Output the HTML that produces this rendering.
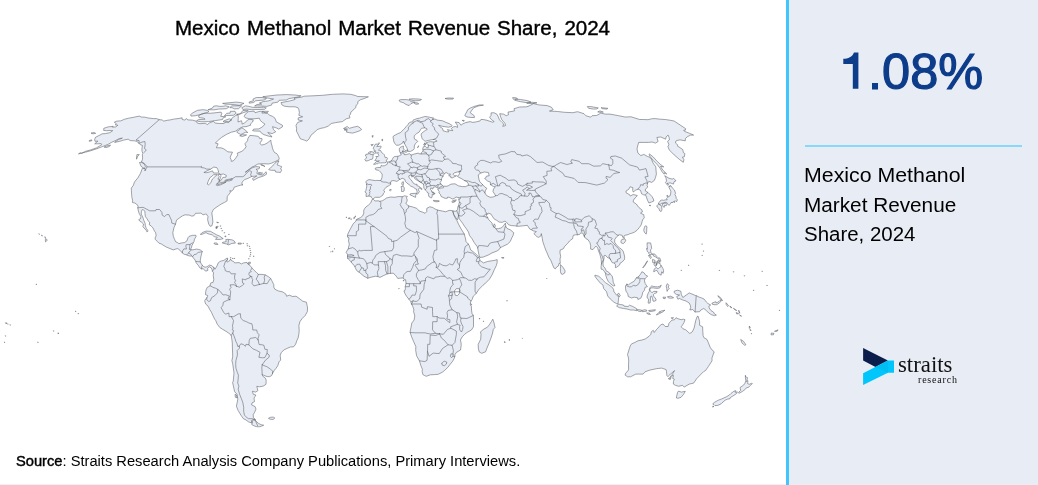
<!DOCTYPE html>
<html><head><meta charset="utf-8">
<style>
html,body{margin:0;padding:0;background:#fff;}
body{width:1038px;height:485px;position:relative;overflow:hidden;font-family:"Liberation Sans",sans-serif;color:#000;}
#title{will-change:transform;position:absolute;left:175px;top:16px;font-size:20px;line-height:24px;white-space:nowrap;color:#000;-webkit-text-stroke:0.4px #000;word-spacing:1.2px;transform-origin:0 0;transform:scaleX(1.026);}
#map{position:absolute;left:0;top:0;width:786px;height:485px;}
#src{will-change:transform;position:absolute;left:15.5px;top:453.5px;font-size:13.8px;line-height:16px;white-space:nowrap;color:#000;transform-origin:0 0;transform:scaleX(1.064);}
#src b{font-weight:normal;-webkit-text-stroke:0.4px #000;}
#panel{position:absolute;left:786px;top:0;width:252px;height:485px;background:#e8ecf5;border-left:3px solid #41c5fc;box-sizing:border-box;}
#big{will-change:transform;position:absolute;left:840px;top:43px;font-size:50.5px;line-height:58px;color:#0c3c8a;white-space:nowrap;-webkit-text-stroke:1.2px #0c3c8a;}
#rule{position:absolute;left:805px;top:145px;width:217px;height:2px;background:#88d8f9;}
#desc{will-change:transform;position:absolute;left:804px;top:160.5px;font-size:19.4px;line-height:29.7px;color:#000;white-space:nowrap;}
#desc span{display:block;transform-origin:0 0;}
#logo{position:absolute;left:850px;top:335px;width:130px;height:65px;}
#st{will-change:transform;position:absolute;left:897.5px;top:352.5px;font-family:"Liberation Serif",serif;font-size:22.8px;line-height:24px;color:#111;white-space:nowrap;}
#rs{will-change:transform;position:absolute;left:918px;top:373.6px;font-family:"Liberation Serif",serif;font-size:10px;line-height:12px;letter-spacing:0.8px;color:#111;white-space:nowrap;}
#bot{position:absolute;left:0;top:484px;width:786px;height:1px;background:#f0f1f4;}
</style></head><body>
<div id="title">Mexico Methanol Market Revenue Share, 2024</div>
<svg id="map" viewBox="0 0 786 485">
<path d="M159.2 119.7L162.1 119.9L163.8 121.1L167.2 120.3L170.1 119.9L174.3 119.0L178.0 118.6L182.1 117.8L182.0 119.2L184.3 120.1L186.7 118.6L187.7 119.9L192.3 120.1L196.0 121.1L197.3 123.1L200.0 123.7L205.3 123.3L207.3 124.6L209.9 122.6L213.5 121.4L215.2 123.1L219.7 123.5L223.8 123.5L225.9 122.0L228.6 122.6L230.7 120.5L231.9 118.2L235.3 115.7L237.8 114.7L238.3 116.8L238.2 118.8L238.1 119.9L238.0 122.0L241.4 120.7L241.9 122.2L242.1 124.1L244.5 123.1L247.7 119.9L249.8 119.2L253.3 119.9L252.6 122.0L250.3 124.1L250.7 125.2L246.0 126.7L243.5 126.7L241.4 127.4L238.7 128.9L235.3 131.3L231.3 132.2L226.3 134.5L221.6 137.4L217.5 140.8L215.4 143.1L218.1 143.8L216.4 147.8L221.0 147.8L223.9 148.9L227.8 151.8L232.5 152.2L230.7 156.0L230.2 157.7L231.1 159.6L231.3 161.3L233.4 160.8L235.5 158.4L237.8 154.9L237.2 153.2L241.9 151.3L244.7 148.9L246.1 146.6L244.9 143.8L247.5 140.8L247.9 138.5L249.8 135.4L254.7 135.8L257.9 136.3L259.2 137.2L259.4 138.3L261.9 138.5L262.0 140.1L259.9 143.1L260.1 143.8L261.7 145.0L264.3 144.5L267.1 143.1L269.4 141.3L270.8 140.1L271.2 143.1L271.9 145.4L272.5 148.2L273.4 150.6L274.5 152.5L276.8 153.7L277.7 154.9L278.6 156.5L279.2 158.4L279.0 159.6L276.1 161.1L271.5 163.2L268.4 164.0L263.7 163.7L257.9 164.0L254.2 166.2L251.9 167.1L247.7 170.5L245.2 172.3L249.1 169.6L252.7 167.6L255.9 166.6L259.7 166.9L259.1 168.8L256.0 169.3L257.5 170.5L256.9 173.5L258.3 174.2L260.1 174.7L263.0 175.0L264.6 173.0L266.1 171.8L266.6 174.2L263.7 175.9L258.2 177.7L253.4 180.4L252.5 178.6L256.8 175.9L254.7 176.2L251.7 176.4L248.0 178.4L244.6 179.6L242.6 181.6L242.0 182.8L242.0 184.6L243.0 184.8L240.2 185.3L237.5 186.1L234.1 187.3L233.4 189.6L230.9 191.5L230.1 190.3L230.2 192.8L227.6 196.0L227.2 196.8L227.1 200.8L224.7 202.3L221.3 204.0L218.6 205.8L216.0 207.5L213.4 209.5L211.8 212.8L212.5 217.8L212.9 222.1L211.9 225.8L210.1 226.3L208.7 224.1L207.6 219.6L208.0 216.6L206.4 214.1L205.4 214.1L203.1 214.8L200.9 213.1L197.7 213.3L195.6 213.3L193.9 215.8L191.7 216.1L189.2 215.1L185.0 214.8L182.6 215.8L179.6 217.8L176.5 220.1L175.5 224.1L173.9 227.8L172.8 232.8L173.4 236.6L174.7 239.6L175.5 241.6L177.5 242.6L178.9 243.6L181.8 242.9L184.5 242.6L186.9 240.9L188.2 237.3L189.2 236.3L192.6 235.3L195.9 235.3L196.1 236.6L194.5 239.1L194.0 241.6L193.1 243.4L192.0 245.4L191.4 247.9L190.2 249.4L191.9 249.9L194.1 249.6L196.3 249.1L198.5 249.4L200.6 249.9L202.2 251.6L201.5 254.1L200.8 257.1L200.4 259.6L200.2 261.9L201.2 263.6L202.4 265.4L203.7 266.7L205.9 267.2L208.1 266.1L209.3 265.1L211.5 265.6L213.8 267.4L215.0 269.2L217.0 265.9L218.2 262.9L219.8 261.6L221.6 260.9L223.9 260.4L226.2 258.6L227.8 258.1L227.2 260.1L226.4 261.6L226.9 262.1L228.2 261.6L230.0 260.4L230.6 258.9L231.1 260.4L233.7 261.6L234.7 262.9L239.1 262.6L241.3 263.9L243.5 262.9L246.9 262.4L247.9 264.1L250.0 265.4L252.1 268.2L254.2 270.4L256.4 272.4L258.5 274.4L261.9 274.4L265.2 274.9L268.4 276.7L270.6 278.4L271.7 280.4L273.8 284.7L273.8 287.2L274.9 289.2L277.1 290.4L278.2 290.9L282.7 291.9L286.0 294.2L286.5 296.2L289.3 295.2L292.7 296.5L296.0 296.2L299.3 298.5L302.7 301.2L306.4 302.2L307.1 305.5L307.6 308.0L307.3 311.7L305.2 315.5L302.0 318.7L299.9 321.7L298.9 325.5L299.2 330.5L298.9 333.8L298.1 338.0L296.9 340.5L295.6 344.3L293.6 346.8L290.4 347.0L287.3 348.3L284.1 349.8L281.2 352.6L280.2 355.6L280.7 360.1L279.0 361.8L277.8 365.6L275.7 368.8L274.4 370.1L272.5 373.6L271.6 375.6L269.7 376.6L267.2 376.6L263.6 375.3L262.1 374.3L262.7 376.1L265.4 378.1L266.2 380.1L266.0 384.3L263.3 386.1L259.4 386.8L256.8 386.3L257.9 390.6L255.7 392.1L252.4 391.3L253.3 394.3L255.9 395.0L255.0 396.5L254.0 398.0L254.5 401.7L252.0 402.9L251.6 404.9L255.1 406.6L256.0 409.1L254.4 412.7L253.2 414.7L253.4 417.5L255.3 419.5L253.2 419.5L251.3 420.7L252.0 423.1L248.6 421.9L245.9 419.9L243.4 418.7L240.9 415.1L238.0 410.3L236.4 406.1L237.1 402.9L237.8 399.2L237.1 394.3L234.7 391.8L233.8 388.1L232.6 382.3L233.3 381.1L233.5 378.1L234.0 373.1L233.3 368.1L232.8 364.3L231.9 360.6L232.7 356.8L232.6 353.1L232.4 348.0L232.3 343.0L231.9 339.8L231.2 335.3L228.9 333.3L226.0 331.3L222.6 329.3L219.8 327.5L217.3 324.3L215.7 320.5L214.7 319.2L213.2 316.2L211.4 312.2L209.5 309.2L208.1 306.2L205.8 304.2L205.0 302.2L204.8 300.5L205.8 298.7L206.9 297.7L207.5 296.7L207.7 295.5L205.5 294.7L205.7 291.7L206.3 289.2L207.4 287.2L209.7 286.2L210.1 285.4L210.8 282.9L213.1 282.4L213.8 279.7L213.2 275.4L213.6 272.9L212.5 271.2L211.9 269.2L211.3 267.9L209.2 266.7L207.6 268.4L207.9 270.4L205.7 271.2L204.6 269.9L203.1 268.7L201.6 268.9L199.9 267.9L198.3 265.4L197.2 264.1L195.6 261.9L195.9 261.4L194.3 259.1L192.5 256.9L191.7 255.9L190.1 256.1L187.4 255.4L186.8 254.8L184.2 254.3L182.3 252.9L179.8 250.1L177.8 248.6L176.2 248.9L173.3 249.9L170.1 248.6L166.4 247.1L163.0 245.1L161.6 244.1L158.9 243.1L157.2 241.4L155.3 239.4L155.1 237.9L156.1 235.8L155.7 232.8L154.5 231.1L152.8 227.8L151.0 225.8L149.3 224.8L149.7 222.3L147.9 220.6L147.3 219.1L145.4 216.6L145.0 213.6L144.9 211.1L143.6 210.1L142.3 209.5L141.4 211.6L141.2 214.1L142.6 216.6L143.4 219.1L144.0 220.8L145.1 223.3L145.3 225.3L146.2 228.3L147.8 230.3L147.8 231.3L146.8 231.8L146.2 230.3L144.1 228.1L142.9 226.6L143.5 224.1L141.7 222.3L139.7 221.1L138.8 219.6L140.6 218.6L140.9 216.6L139.0 213.1L138.4 211.1L137.8 207.8L138.1 206.0L136.5 204.0L134.6 203.0L132.5 202.5L132.6 200.3L131.9 197.5L131.7 195.3L131.5 193.3L131.4 190.3L131.3 188.1L133.4 185.3L134.4 182.1L137.8 177.9L140.3 173.7L142.4 168.3L145.4 168.8L144.9 171.0L147.0 166.9L146.7 166.2L145.4 164.5L142.9 162.5L141.4 162.0L142.4 159.6L142.6 157.2L142.3 154.9L142.9 153.2L142.1 151.8L141.9 148.9L142.4 145.4L140.3 144.7L139.0 143.4L136.9 141.5L134.4 140.8L130.2 140.6L128.2 139.2L123.7 140.1L119.8 141.3L114.6 142.4L118.4 139.7L122.4 138.1L119.3 138.5L115.0 140.8L111.4 142.4L108.2 144.3L102.4 146.6L96.3 148.9L90.6 150.8L85.4 152.2L82.1 153.0L85.5 151.3L90.7 149.9L96.6 147.8L101.7 144.7L101.2 143.6L97.4 143.8L94.7 143.8L97.9 141.1L95.0 141.3L94.6 139.5L95.6 137.2L99.9 135.1L102.1 133.8L105.3 133.6L109.9 132.7L112.7 130.7L111.0 130.5L106.5 130.7L103.7 130.5L103.8 128.3L108.1 126.9L113.2 126.3L112.3 127.2L115.9 126.9L117.9 125.2L115.4 125.0L116.2 123.5L114.3 122.2L116.8 121.1L120.6 120.9L124.7 119.2L128.6 118.2L134.1 117.2L139.2 116.1L141.4 117.0L145.1 117.2L147.4 117.8L150.0 118.2L153.4 118.6L156.6 118.6ZM281.0 102.6L289.5 101.0L295.1 99.5L294.2 98.1L301.0 97.3L304.0 96.2L313.0 95.8L322.6 95.3L332.4 94.3L343.0 93.9L350.6 94.3L355.4 95.5L357.7 96.5L368.4 96.8L364.0 98.6L360.3 99.8L357.8 101.6L357.9 103.7L356.2 105.2L355.6 107.7L353.7 109.7L350.9 112.1L350.4 114.3L349.3 115.7L350.0 117.8L346.3 118.8L342.4 121.6L335.7 122.6L331.4 123.5L328.2 126.1L324.5 127.6L320.9 128.3L317.2 129.6L314.6 132.2L311.1 135.1L309.0 139.0L306.8 141.1L304.3 140.1L300.3 138.8L298.8 135.8L297.4 132.9L296.4 131.1L296.6 128.5L296.0 125.4L297.7 122.4L302.4 120.9L298.1 119.9L298.3 117.8L302.7 116.8L298.8 115.3L299.4 112.7L298.9 109.7L297.9 107.7L294.9 106.8L289.0 106.8L284.4 106.2L281.9 104.9ZM272.0 137.0L269.9 136.5L266.9 135.6L264.0 134.7L261.4 133.1L260.0 131.1L255.7 131.1L252.6 130.7L253.6 129.1L258.8 128.9L262.4 126.9L265.0 124.1L262.7 122.6L260.2 120.3L259.3 118.2L254.1 118.8L249.3 118.8L245.3 117.8L244.2 116.3L245.7 113.7L248.3 111.7L254.1 111.1L255.0 112.7L260.0 111.3L262.3 111.3L265.0 112.7L267.6 113.3L269.3 115.1L272.4 116.3L274.6 117.8L275.7 119.9L276.2 121.8L279.2 123.5L282.4 125.2L282.4 126.9L278.8 129.1L276.1 127.8L272.5 126.7L273.5 129.6L275.7 131.8L272.3 133.6L267.7 132.5L270.6 135.1ZM190.5 114.7L191.1 116.1L195.5 115.7L199.8 114.7L206.8 112.7L209.0 111.5L207.4 110.3L202.9 109.7L197.6 110.3L193.0 112.7ZM198.6 115.7L199.0 117.6L203.8 118.2L205.1 119.2L198.3 119.7L196.5 120.9L201.0 121.8L208.5 121.6L215.9 120.5L222.5 119.5L223.2 117.8L225.8 116.8L220.7 116.3L221.8 113.7L221.2 112.1L216.0 112.7L209.9 113.3L204.8 113.1L201.3 114.1ZM223.6 120.9L223.5 122.0L228.7 121.6L231.7 119.9L229.4 118.8ZM224.4 115.7L233.4 115.3L236.1 113.3L235.0 111.3L230.4 111.3L230.1 113.1L226.8 113.3ZM236.6 114.3L240.3 113.7L242.9 110.5L248.1 110.3L247.8 111.1L243.2 112.7L238.6 114.7ZM213.6 106.2L212.4 108.1L208.1 109.7L213.9 109.9L218.6 109.1L226.5 108.7L229.2 106.8L225.7 105.8L223.8 106.2L219.9 106.4L216.3 105.8ZM231.6 105.8L241.7 105.8L238.5 108.7L234.5 108.9L232.1 107.7L229.9 107.7ZM239.3 105.4L244.0 103.4L240.2 102.5L236.4 102.1L228.4 102.8L222.6 103.4L225.1 104.1L233.3 104.5ZM241.8 107.7L242.9 109.5L247.0 109.1L251.7 109.7L260.1 109.5L264.7 109.3L266.3 107.9L263.7 107.2L257.5 107.5L252.5 107.3L249.1 106.4L245.4 105.8ZM249.2 103.2L253.6 102.5L255.6 100.8L264.2 100.0L266.5 98.6L262.5 97.5L256.4 97.5L252.9 99.1L253.5 100.8L249.3 101.9ZM254.6 106.0L260.5 106.0L266.7 106.4L271.6 105.1L272.0 103.2L278.0 102.1L279.1 100.3L286.3 100.0L289.0 98.6L298.0 97.0L301.1 95.8L295.2 95.0L286.5 94.6L276.8 95.0L269.1 95.9L262.8 96.7L267.8 98.1L273.6 99.0L268.8 100.8L263.1 101.6L259.4 103.0L261.7 104.1L257.0 104.5ZM241.9 127.8L236.7 131.8L237.6 132.9L240.9 134.5L245.7 132.2L247.8 132.5L245.9 130.7L243.7 128.9ZM246.6 134.9L242.4 134.7L239.7 135.8L242.5 136.5ZM262.6 111.3L268.4 111.3L267.1 112.9L261.9 113.1ZM268.7 169.6L271.2 170.3L275.1 170.3L275.6 172.0L278.5 172.3L280.4 172.5L281.6 170.3L280.6 168.1L281.9 166.9L279.4 165.7L277.1 164.9L279.0 160.8L276.1 162.0L274.0 164.5L271.2 167.1ZM139.5 162.5L141.1 166.4L144.5 168.6L145.4 166.4L144.0 163.7L141.2 162.3ZM136.9 154.6L136.6 157.2L136.5 159.2L137.7 156.3L139.3 154.6ZM263.2 165.2L265.0 166.6L260.7 164.7ZM258.9 172.3L262.6 173.0L261.2 174.2L258.0 173.2ZM80.3 152.7L82.2 153.2L78.5 153.9ZM91.0 133.1L94.3 132.5L95.7 133.4L93.0 133.8ZM89.4 140.4L91.9 139.9L91.7 140.8L89.2 141.3ZM104.1 147.1L106.5 147.5L109.5 146.4L110.5 145.0L106.5 146.1ZM200.3 234.3L202.8 232.3L206.2 231.1L210.5 231.3L213.5 233.1L216.5 234.8L219.6 236.1L223.2 238.6L220.3 239.4L215.5 239.4L217.3 237.3L214.1 236.6L212.2 234.8L208.0 233.8L206.0 232.6L203.7 233.6L201.4 234.6ZM222.3 243.1L226.4 243.9L228.5 244.9L231.9 243.4L235.4 243.1L234.3 241.1L232.2 239.9L228.6 239.4L225.8 239.4L226.2 241.6L222.6 242.4ZM213.8 243.4L215.4 244.4L218.0 244.4L216.9 243.1L214.9 242.9ZM238.0 243.1L238.1 244.1L241.2 244.1L241.3 243.1ZM248.4 262.4L248.1 263.9L250.1 263.9L250.4 262.1ZM216.6 222.1L218.6 222.6L217.3 222.8ZM216.3 226.3L216.7 228.6L217.2 227.6ZM45.6 238.4L47.4 240.1L45.5 241.9L45.3 239.9ZM44.7 236.8L45.6 237.3L44.9 237.6ZM41.6 235.1L42.5 235.8L41.6 235.8ZM38.7 233.8L39.5 234.1L39.0 234.3ZM268.4 418.3L270.4 417.3L273.3 417.1L274.8 418.0L273.0 419.5L270.1 419.2ZM255.3 420.4L256.7 421.9L258.7 423.5L261.1 424.7L263.7 425.2L261.7 426.1L259.2 426.8L256.3 426.6L254.2 425.9L251.7 424.5L252.3 423.1L252.3 420.9L253.7 420.2ZM235.1 394.3L236.3 394.8L237.1 397.8L235.3 397.3ZM343.5 128.5L347.2 126.5L349.3 128.3L354.5 126.9L357.6 126.3L360.1 127.8L361.6 129.6L359.0 131.1L352.8 133.1L349.5 132.7L346.2 132.0L347.2 130.7L344.0 129.8L347.5 129.1ZM452.7 210.8L449.9 210.3L447.9 210.8L445.8 211.8L442.6 211.1L437.6 210.1L435.0 209.0L432.8 207.5L429.8 206.8L426.8 208.3L426.7 211.6L425.1 213.3L422.5 212.1L419.3 211.1L416.7 208.3L412.2 206.8L408.6 206.0L407.5 204.8L405.8 203.5L406.9 201.5L407.3 200.0L406.4 197.8L407.4 196.5L405.5 196.0L404.6 195.8L402.2 196.8L399.9 196.5L396.8 196.8L394.8 197.3L390.6 197.0L386.5 198.0L384.4 199.5L382.3 200.8L379.8 201.3L378.2 200.8L375.0 201.0L373.4 199.3L372.1 199.5L370.8 202.8L368.5 205.0L365.9 207.0L364.8 208.3L363.7 210.3L363.8 213.1L362.7 215.8L360.5 217.6L356.8 219.3L355.5 221.6L353.3 223.6L351.0 227.8L349.9 229.8L347.8 234.1L347.4 237.1L349.0 237.9L348.5 240.9L349.3 244.1L348.3 248.6L346.1 252.4L347.6 254.6L347.5 258.1L348.8 259.6L350.8 261.4L352.0 263.4L354.2 265.4L355.3 267.9L356.8 270.7L359.0 272.2L360.6 273.4L363.9 276.2L367.6 278.2L371.2 277.2L375.6 276.2L378.2 276.7L380.0 277.4L383.3 275.7L387.1 273.9L389.9 273.4L393.2 273.2L395.0 274.7L396.6 276.7L397.7 278.4L399.9 278.2L402.8 277.9L404.1 279.2L405.6 279.7L406.1 283.4L405.2 286.7L405.4 288.4L405.0 290.4L403.9 290.9L405.0 293.7L406.5 296.2L408.7 299.0L410.5 301.2L411.4 303.7L412.7 306.2L414.0 310.0L413.5 311.2L414.8 316.0L414.1 320.0L411.8 323.0L411.1 327.0L410.2 331.0L410.2 332.5L411.6 336.8L413.5 341.3L415.8 346.5L415.7 350.5L416.6 355.8L419.4 360.8L420.9 365.6L422.4 369.3L422.1 371.3L422.9 374.6L424.7 375.6L426.2 376.3L430.4 374.8L434.6 374.6L438.2 374.3L442.2 372.3L444.4 370.6L447.9 367.3L450.3 364.1L452.6 361.3L454.4 358.1L455.1 354.3L456.5 352.3L460.5 350.0L461.2 345.5L461.1 343.0L460.4 340.0L462.3 336.8L464.6 334.3L467.4 332.3L471.4 330.0L473.5 326.8L473.5 323.0L473.5 318.0L473.3 315.5L472.1 313.7L471.5 310.0L471.4 306.5L470.3 304.7L470.6 301.7L472.1 299.5L473.3 296.2L476.2 293.4L479.1 289.2L482.8 285.4L484.8 283.9L489.4 279.2L492.2 274.7L494.3 269.7L496.3 265.6L497.1 262.9L497.2 259.6L494.4 260.4L491.1 260.9L487.8 261.4L483.5 262.9L480.1 260.6L479.3 257.9L477.7 255.9L474.7 252.9L472.0 250.9L470.8 250.1L469.1 245.4L468.3 244.1L466.0 241.6L465.4 237.9L464.9 236.6L464.3 234.1L461.2 229.1L458.5 224.1L457.0 220.8L455.2 217.8L453.7 214.6ZM492.8 319.2L494.1 323.0L495.0 327.5L493.3 329.3L492.6 333.0L491.0 338.0L489.1 343.0L487.0 348.0L485.6 351.8L481.6 353.3L479.1 351.8L478.3 348.0L478.2 344.3L480.7 339.3L481.0 334.3L480.5 331.8L483.9 329.0L487.3 327.3L489.7 324.3L491.3 321.7ZM452.7 210.8L455.3 211.3L456.7 210.8L457.5 209.5L457.8 207.0L458.2 206.3L458.8 204.3L459.4 202.3L458.8 199.5L459.4 197.5L458.0 197.5L456.0 197.0L454.1 198.5L452.5 199.0L449.7 197.5L447.7 197.0L447.3 198.3L445.0 198.3L442.8 197.3L441.1 196.5L440.5 194.5L438.9 193.0L439.3 191.5L438.0 190.3L437.8 189.1L440.4 188.1L443.4 187.8L443.6 186.1L446.2 186.3L448.2 185.8L451.0 184.1L455.0 183.8L458.3 185.8L462.5 186.6L465.5 186.6L468.4 185.3L468.2 183.6L466.7 181.6L463.8 180.1L461.1 178.4L458.9 177.4L457.3 176.2L458.5 175.4L459.6 173.7L458.9 172.3L461.1 171.3L457.9 171.8L454.2 173.0L453.3 173.7L453.0 174.2L454.7 175.9L456.6 175.7L454.6 176.7L452.4 177.9L450.8 177.7L450.7 176.2L448.7 175.7L450.6 174.2L448.4 174.0L446.8 172.7L444.9 173.0L443.3 175.4L441.6 178.6L441.4 180.6L440.1 182.6L440.9 184.3L443.1 185.8L441.2 186.6L439.3 187.6L437.7 188.3L437.2 187.3L435.1 186.8L433.2 187.3L432.9 189.1L430.8 187.8L430.5 189.6L431.9 191.0L431.6 192.0L433.8 193.5L433.9 194.8L432.2 194.3L432.3 195.8L431.7 197.8L430.8 197.8L429.3 197.0L428.3 194.8L429.0 193.5L427.6 193.0L426.8 191.5L425.2 189.8L423.9 188.1L423.7 185.6L423.4 184.3L421.6 182.8L418.5 181.1L417.2 180.4L414.7 178.6L414.0 176.7L412.9 175.9L412.0 177.2L411.3 175.4L410.3 175.0L408.8 175.9L409.1 177.9L411.4 180.1L413.0 182.8L415.1 184.3L417.1 184.3L416.8 185.6L418.9 186.3L422.1 188.8L421.8 189.6L419.4 187.8L418.3 189.8L419.4 191.5L418.5 193.0L417.4 194.3L416.7 193.5L417.2 192.0L416.4 189.1L415.0 188.6L413.9 187.6L413.2 187.1L410.7 186.1L409.0 184.6L407.0 183.1L405.5 181.6L404.8 179.4L403.9 178.9L402.1 178.2L400.4 179.4L399.4 179.6L398.2 180.6L396.8 181.4L395.0 180.9L393.0 180.6L391.4 180.9L390.4 182.8L390.9 184.3L388.9 185.6L386.0 187.3L384.4 189.3L383.8 190.5L384.8 192.0L383.4 193.3L383.0 195.0L380.5 196.8L379.9 197.3L375.3 197.3L373.2 198.8L372.8 199.0L371.4 197.5L371.2 196.5L369.1 196.0L366.0 196.5L366.3 193.0L364.9 192.0L366.0 190.3L366.3 188.6L366.8 186.1L366.5 183.8L365.8 181.6L367.8 180.1L369.0 179.6L372.4 180.1L375.4 180.6L376.8 180.4L380.8 180.6L382.0 177.4L382.2 175.2L382.0 173.7L380.1 171.8L378.6 170.3L375.8 169.8L375.1 168.3L377.4 167.4L380.5 167.6L381.3 165.2L382.1 165.9L384.6 165.7L387.3 164.2L387.5 162.3L389.2 161.8L391.1 161.1L392.2 159.6L393.2 157.5L394.7 156.5L397.5 156.3L399.7 155.8L400.4 155.1L401.2 154.9L400.3 152.7L399.5 151.3L399.2 148.9L400.0 147.5L402.3 146.4L403.5 146.1L403.2 148.5L404.3 149.2L403.1 150.4L402.3 151.8L402.2 152.7L403.0 153.7L404.8 153.9L404.7 154.9L406.7 154.4L409.5 153.7L411.1 155.1L414.1 154.1L418.5 153.0L419.1 153.9L421.2 153.9L421.4 152.7L423.2 150.8L422.7 148.9L423.3 146.8L425.2 146.1L426.5 147.5L428.2 147.8L428.4 145.7L428.3 144.5L426.4 143.6L426.2 142.7L428.4 142.0L430.5 141.7L434.1 142.0L437.1 141.1L434.8 139.5L431.9 139.7L428.5 140.4L425.1 141.3L423.5 139.9L421.9 138.5L421.8 137.2L421.1 135.1L421.4 133.6L423.0 132.2L425.7 130.2L427.1 129.6L426.7 128.5L424.7 127.8L421.5 128.3L420.4 129.8L419.9 130.9L419.0 132.2L416.6 133.6L415.2 134.9L414.3 135.8L414.2 137.9L414.6 139.2L417.0 140.4L417.9 141.3L416.6 142.4L415.3 143.8L414.3 145.9L414.3 148.5L413.3 149.9L410.7 151.3L408.3 151.5L407.7 150.1L407.2 148.5L405.9 146.1L404.4 143.4L403.3 141.1L402.8 142.9L400.5 144.3L398.8 145.2L396.6 145.2L394.6 143.4L393.6 140.8L393.6 139.9L393.1 137.9L393.2 136.3L395.1 135.1L397.6 133.8L400.6 132.5L402.0 131.1L403.4 129.6L404.8 128.3L406.0 126.7L408.0 124.6L408.8 123.1L411.1 121.8L412.6 122.2L413.2 119.9L414.7 119.5L417.0 118.6L419.3 118.2L421.8 117.4L424.9 116.5L427.6 116.8L429.3 117.2L433.5 118.0L432.2 119.2L433.6 119.2L435.0 119.0L437.2 120.1L442.2 120.7L446.0 122.4L449.8 123.9L452.2 125.6L451.5 126.5L448.4 127.2L442.3 126.3L438.7 125.2L439.9 126.7L442.6 128.5L443.0 130.7L446.4 131.8L448.9 131.8L447.4 129.6L451.1 130.5L452.8 130.7L451.3 128.5L453.3 126.9L455.6 126.5L457.6 127.4L457.3 125.2L455.3 122.0L459.1 122.6L460.9 125.2L462.8 123.9L465.6 122.6L470.0 121.6L472.8 122.4L476.5 121.8L480.1 120.9L480.9 119.5L483.3 119.5L487.0 120.3L492.6 122.2L494.2 121.6L491.3 119.5L489.6 117.2L491.1 115.3L491.0 112.9L493.9 112.7L496.8 114.1L498.3 116.8L499.5 119.9L502.0 122.4L503.8 124.1L502.7 126.3L505.6 125.6L504.8 123.1L501.9 119.9L500.6 116.8L499.7 113.7L503.4 114.1L506.2 115.7L508.5 114.7L508.0 112.1L514.5 110.9L514.0 108.7L519.6 107.0L526.7 106.8L529.8 105.6L533.4 103.6L538.9 104.9L547.2 105.6L551.4 107.2L553.2 109.7L549.5 111.1L554.3 111.3L557.6 111.5L564.6 112.3L572.8 112.7L577.6 111.7L584.0 113.7L585.8 115.7L590.7 117.2L592.0 115.7L596.5 115.5L599.2 114.1L600.4 113.1L605.4 114.1L610.0 114.1L618.6 115.7L625.0 117.0L631.0 116.8L639.7 119.5L643.7 119.5L648.0 119.7L651.5 118.8L655.1 118.6L660.1 119.2L665.2 119.5L670.5 120.3L674.1 121.0L685.7 128.7L685.4 130.2L683.7 130.2L684.4 131.3L689.7 133.4L693.6 135.1L690.5 135.1L687.4 136.7L685.4 138.5L685.3 140.8L680.1 139.9L677.1 140.4L675.8 141.1L675.6 143.1L678.1 145.4L677.4 145.9L682.8 149.6L683.3 152.5L684.9 153.7L684.3 156.8L682.4 157.2L683.9 159.6L683.3 162.3L679.6 159.6L674.2 154.9L669.4 150.1L667.9 146.6L668.9 144.7L667.6 141.3L669.4 139.9L669.1 137.4L668.1 135.1L666.0 137.0L665.7 139.2L660.8 137.0L656.9 137.4L658.1 141.5L655.5 143.1L652.1 142.0L648.5 142.4L643.2 142.4L638.7 142.4L637.7 145.9L637.0 148.9L637.9 153.0L640.8 155.6L643.8 154.4L647.6 156.5L649.7 157.2L651.4 159.2L653.2 163.2L655.8 166.9L656.1 171.0L656.4 174.2L655.5 177.4L654.4 180.4L651.7 182.4L648.8 181.4L647.6 183.3L647.1 185.6L647.8 187.1L645.4 189.1L645.4 191.0L648.0 192.5L652.0 196.5L653.4 199.0L653.8 201.0L651.6 202.0L648.9 203.0L647.5 200.3L646.4 197.0L645.8 195.3L643.5 194.8L641.6 193.8L640.5 190.3L638.0 189.1L635.7 190.1L633.2 192.0L632.7 190.3L632.8 187.6L630.0 186.8L628.8 189.3L626.0 191.0L626.1 192.8L629.4 194.5L630.3 196.0L633.1 194.5L637.3 195.5L636.0 197.3L634.2 198.8L633.3 200.8L633.2 202.0L636.3 204.0L638.9 207.5L641.8 209.8L642.5 211.8L640.9 212.6L640.7 213.3L643.7 214.6L644.3 217.8L643.0 219.3L642.0 221.8L641.5 224.1L640.4 226.1L639.1 227.8L637.0 230.3L634.2 232.3L631.6 233.3L630.1 233.6L628.1 234.6L625.0 235.3L623.8 236.1L624.4 238.4L622.7 237.3L622.2 235.3L619.5 234.8L618.5 235.3L616.6 236.8L614.8 239.4L614.6 242.1L616.8 245.4L619.6 247.9L621.2 248.9L623.1 251.1L624.2 254.6L624.7 257.4L624.5 259.4L622.3 261.9L620.2 263.1L619.5 265.1L616.7 267.2L615.4 267.7L615.4 264.6L614.4 263.1L612.2 262.6L610.9 260.4L609.9 258.6L607.3 257.4L605.8 255.6L604.9 255.4L603.9 255.9L604.1 257.9L603.8 259.6L603.0 262.9L603.2 266.1L604.9 267.9L606.4 271.2L608.4 271.9L609.8 273.7L612.1 275.9L612.9 279.2L613.2 282.2L614.9 285.7L613.3 285.9L610.4 283.7L608.4 281.7L606.9 278.7L605.9 275.7L605.4 273.2L604.2 271.2L602.5 269.2L601.2 269.2L601.0 266.7L601.5 264.1L601.2 259.6L600.8 257.9L599.8 254.1L598.5 250.9L597.7 247.9L595.9 246.1L594.6 247.6L592.9 249.6L590.6 249.1L590.6 245.4L589.8 242.4L587.9 239.6L586.2 238.9L584.7 237.1L583.6 235.3L583.1 233.3L580.8 232.8L579.8 234.3L577.4 234.8L575.5 234.8L573.4 235.3L572.8 237.3L572.7 238.6L570.9 239.9L569.4 241.1L567.7 243.4L566.1 244.9L564.2 246.9L563.7 248.4L562.0 249.4L560.1 250.1L560.0 252.9L560.7 256.4L560.0 259.1L560.3 263.4L559.0 263.4L558.5 265.9L556.8 266.9L555.3 268.9L553.9 267.9L552.4 264.4L551.1 260.9L548.7 256.9L546.7 252.1L545.9 250.4L544.5 246.6L542.9 241.9L542.3 238.6L541.9 236.3L541.3 233.6L540.8 236.1L538.5 237.3L537.1 236.8L533.8 233.6L536.4 231.6L533.0 230.8L531.6 229.8L529.8 229.1L528.5 227.1L527.4 225.3L523.2 225.8L518.5 226.3L516.9 226.1L514.8 225.8L511.3 225.6L508.6 224.8L506.6 222.3L505.0 221.1L502.3 222.3L499.1 222.1L496.7 220.3L494.5 219.3L492.7 216.8L491.0 214.1L488.3 213.1L487.6 214.1L486.4 214.1L486.5 215.6L487.7 217.8L488.8 219.8L490.9 221.8L492.1 223.1L492.3 224.8L493.8 227.1L493.6 225.3L494.3 223.8L495.4 225.8L494.9 227.6L496.1 228.8L498.7 228.6L501.6 227.8L503.4 225.8L504.9 223.8L505.4 223.1L505.8 226.6L506.9 228.3L510.7 230.1L513.8 232.8L513.0 235.6L511.8 237.9L510.2 241.6L507.6 244.1L504.9 245.4L502.5 246.6L500.4 247.6L498.6 250.1L496.1 251.4L492.0 252.9L488.6 254.9L483.2 257.1L480.0 257.4L479.2 255.9L478.4 252.1L477.7 248.1L477.2 246.6L474.1 242.4L471.9 238.6L469.4 235.3L468.5 232.1L466.4 228.8L464.5 226.3L462.8 223.6L460.4 220.3L459.2 218.8L458.6 215.3L457.9 218.6L457.5 219.8L455.9 217.8L454.2 215.3L453.7 214.2ZM373.5 164.2L374.8 163.2L376.4 161.6L378.7 161.6L379.3 160.6L377.8 161.1L376.2 160.6L374.7 160.4L375.9 159.2L376.7 157.7L375.8 156.5L378.2 156.5L378.8 155.3L377.9 153.7L378.5 152.7L375.3 153.2L375.2 151.8L375.6 150.8L374.1 151.5L374.2 149.4L373.1 148.5L374.1 146.6L374.9 145.0L375.5 144.1L378.9 144.1L377.2 145.9L376.8 146.6L380.8 146.1L381.2 146.8L380.4 148.2L379.3 149.4L378.5 150.1L380.7 150.6L381.6 152.5L383.3 153.7L384.2 154.6L384.6 155.8L385.0 157.0L385.2 157.7L386.9 157.5L387.6 158.4L386.9 159.9L385.9 160.8L387.1 161.3L386.3 162.3L384.8 162.8L382.5 162.8L380.6 163.0L378.7 162.8L377.5 164.0L376.4 163.7L374.4 164.5ZM372.3 159.2L370.2 159.6L368.3 160.6L365.8 161.1L364.9 159.6L366.1 158.2L366.6 156.8L365.5 156.0L365.8 154.4L368.4 154.1L368.3 153.0L369.1 152.0L371.0 151.5L373.0 152.0L374.0 153.2L374.2 154.1L373.0 155.1L373.0 156.5L372.9 158.0ZM399.0 100.3L400.9 99.6L406.4 99.6L409.3 100.1L411.1 101.6L414.7 102.1L410.9 103.7L409.1 105.6L406.0 104.5L403.6 102.8L399.8 101.6ZM409.1 99.1L413.1 98.8L418.6 99.0L421.5 99.5L419.8 100.5L415.1 100.8L410.7 100.0ZM414.2 102.6L417.8 103.0L418.8 103.9L416.0 104.3L414.3 103.4ZM464.8 115.7L467.0 117.0L470.3 117.4L474.4 117.6L474.2 115.7L470.2 112.7L471.8 110.3L473.8 107.7L479.0 105.8L483.5 105.1L479.7 104.9L474.9 106.2L470.9 107.7L467.7 109.7L466.7 111.9L465.5 114.1ZM445.0 98.5L448.0 98.0L453.6 98.1L452.9 99.1L447.4 99.1ZM514.7 100.3L515.9 99.1L520.5 99.5L527.7 100.7L531.0 102.1L526.0 102.6L520.7 101.7ZM526.7 103.2L530.1 102.5L532.6 102.3L536.9 102.8L532.9 103.6L528.4 103.4ZM513.4 99.3L512.6 97.6L516.2 97.8L517.7 99.0ZM588.6 108.3L587.3 106.6L590.9 106.6L598.3 107.9L596.9 108.9L593.5 109.1ZM601.0 107.7L607.9 108.3L607.0 109.1L602.6 108.7ZM597.7 111.9L600.0 110.9L603.3 112.1L599.8 112.3ZM462.1 120.3L464.3 120.5L463.9 121.4ZM649.7 154.1L653.5 157.2L656.6 160.8L660.5 164.5L663.8 166.9L660.5 166.4L662.8 170.1L666.8 174.0L664.6 172.7L664.2 174.2L662.1 171.8L660.0 168.1L657.2 164.5L653.1 160.4L650.0 156.5L649.0 154.4ZM667.6 185.3L665.5 182.6L666.5 181.1L666.0 177.9L664.7 175.7L668.9 178.2L672.2 179.1L673.7 178.4L676.0 180.9L674.1 181.6L673.5 184.1L670.1 182.8L668.4 183.3L667.0 183.3L668.6 184.6ZM669.8 185.6L670.8 185.6L672.2 187.8L674.5 190.1L675.5 193.3L674.9 194.5L676.1 196.8L676.2 198.5L677.4 199.8L676.9 201.3L676.0 201.5L675.4 200.8L674.5 201.0L674.6 202.5L673.3 201.5L673.1 202.5L671.0 202.5L670.7 203.3L669.9 204.3L669.3 205.3L667.3 204.0L666.8 202.5L665.2 202.3L663.5 203.0L661.3 203.3L660.5 204.3L658.7 204.0L658.3 203.0L659.4 202.3L660.5 200.5L661.7 200.0L663.7 200.3L665.8 199.8L667.2 199.8L666.6 198.5L667.5 197.3L666.8 195.5L667.7 195.3L668.2 197.0L669.9 196.0L670.6 194.0L670.9 191.5L670.1 189.6L669.0 187.6L668.8 186.3L670.1 186.8ZM662.2 205.3L662.7 203.5L665.0 203.0L666.2 203.5L666.7 204.5L666.2 205.8L664.5 205.3L664.3 207.3L662.9 206.5ZM658.6 204.3L660.6 205.0L661.6 206.5L661.9 209.3L661.6 210.8L661.1 211.6L659.7 210.8L659.0 208.8L657.5 207.3L656.7 205.8L657.9 205.0ZM645.8 225.8L647.0 226.6L646.7 229.1L646.7 231.3L646.2 234.1L644.6 232.6L643.7 230.3L644.4 227.6L644.8 226.3ZM620.9 241.1L621.9 239.4L624.7 238.9L625.8 240.1L625.0 242.1L623.3 243.6L621.2 242.9ZM649.2 205.3L650.6 205.3L650.3 206.0ZM560.4 264.6L561.3 265.4L563.4 267.9L565.1 270.9L564.8 272.9L562.4 274.4L561.0 273.7L560.5 271.7L560.4 268.7L560.5 266.7ZM647.1 242.9L650.6 242.9L651.3 245.9L651.6 248.6L650.5 249.9L650.9 252.9L652.6 253.9L654.8 254.1L656.9 256.6L656.8 257.9L655.1 256.6L653.5 256.1L653.1 254.4L651.3 254.4L649.9 254.9L648.8 253.6L649.3 252.6L648.4 252.4L647.4 251.6L646.5 248.4L647.5 248.9L647.1 245.4ZM648.4 255.4L650.4 255.6L651.3 257.6L650.7 258.6L649.7 257.4ZM642.8 267.9L644.6 266.1L646.4 263.1L647.7 260.9L646.7 261.6L645.4 264.1L643.6 266.4ZM652.6 259.4L655.1 260.4L654.3 262.9L652.9 262.9L652.5 260.9ZM654.0 264.4L655.1 261.9L656.2 262.6L656.1 265.9L655.2 266.4ZM656.3 265.4L657.2 261.1L657.4 262.9L656.7 265.1ZM657.5 257.9L659.7 257.9L660.9 261.1L659.8 261.4L658.8 259.6ZM657.8 260.4L659.3 260.9L660.1 263.6L659.2 263.9L658.1 261.9ZM653.7 271.9L654.1 269.2L656.4 267.4L657.4 268.7L658.3 268.7L659.3 267.7L661.0 266.7L660.6 264.6L662.9 268.4L663.7 270.9L663.0 273.4L661.8 271.7L661.3 273.9L661.1 275.2L658.6 273.7L658.1 272.4L656.9 270.4L655.6 270.7ZM626.8 284.2L628.4 284.9L630.7 283.2L634.2 281.2L636.3 277.9L638.5 276.7L640.5 274.2L641.9 271.7L644.2 272.9L645.2 274.7L647.7 276.2L645.6 277.9L645.0 278.7L644.4 280.9L645.3 283.7L647.4 286.7L645.2 287.2L644.3 290.4L642.7 292.4L642.0 295.5L640.8 298.2L637.9 299.5L637.5 297.7L634.2 297.2L631.5 298.0L628.3 296.5L627.7 293.7L626.0 291.2L625.5 288.4L625.5 285.9ZM594.9 275.2L598.7 276.2L601.7 278.9L602.6 279.9L605.5 282.7L608.9 284.9L612.3 287.4L613.4 289.2L614.0 291.7L615.5 293.7L616.6 295.2L618.8 296.7L618.4 300.0L618.1 303.7L616.7 303.7L615.4 303.0L613.7 302.0L610.5 299.2L607.7 296.0L606.5 291.7L603.6 288.4L602.9 284.9L600.4 283.2L596.8 278.9L594.9 276.2ZM616.6 306.2L618.5 304.0L620.2 304.5L623.5 305.0L624.1 306.2L628.1 306.5L629.5 305.2L632.9 306.5L636.7 308.7L636.8 310.7L633.6 310.0L630.3 310.0L627.0 309.0L623.7 308.5L619.4 307.7ZM618.8 293.2L620.3 295.7L619.4 296.7L617.3 294.2ZM636.9 309.7L639.5 309.7L641.7 310.2L641.2 311.5L638.3 311.2ZM641.9 310.5L644.6 309.7L646.8 310.2L646.5 311.2L642.3 311.7ZM648.7 310.5L651.2 310.2L655.4 309.7L655.1 310.7L651.1 311.5L648.9 311.2ZM646.6 313.0L649.2 313.0L650.4 314.5L648.0 314.2ZM656.3 315.0L658.5 312.7L661.1 311.0L664.9 310.2L663.2 311.7L659.7 313.5L657.4 314.7ZM651.8 285.9L653.2 286.4L655.4 286.7L657.6 286.9L659.8 286.2L661.3 285.2L659.8 287.9L657.2 288.4L653.2 287.9L651.0 287.9L649.9 289.2L650.1 290.9L652.0 292.7L653.6 291.4L657.1 291.4L656.5 292.9L654.7 293.4L653.3 294.7L653.9 296.5L654.8 297.5L656.0 299.2L656.0 300.5L654.4 301.2L653.1 301.2L652.5 298.5L651.7 296.0L650.4 296.7L650.5 299.2L650.1 303.0L648.3 303.2L648.2 302.2L648.7 299.2L647.2 298.0L647.1 296.0L648.3 292.9L649.4 291.2L649.4 288.7L650.5 286.9ZM667.2 283.7L669.1 285.4L668.0 287.2L669.3 288.4L667.6 290.2L667.1 291.4L666.7 288.4L666.2 286.2ZM667.4 296.7L670.7 296.2L673.6 297.7L671.8 298.2L668.5 298.0ZM663.0 297.2L665.6 297.2L665.1 298.7L663.4 298.5ZM674.2 291.2L677.5 290.2L680.8 291.2L681.4 294.7L682.8 297.5L686.3 295.0L689.2 292.9L691.2 293.7L695.5 295.5L696.2 295.7L699.4 297.2L701.8 298.0L704.0 299.0L706.5 302.2L707.9 303.5L710.7 305.0L708.9 306.2L709.2 308.0L711.1 310.7L713.4 312.0L714.7 314.2L716.4 315.0L714.6 315.7L711.4 314.7L708.7 313.0L706.3 310.5L703.8 308.5L700.8 310.0L699.6 311.7L695.1 312.0L692.7 309.5L689.8 310.0L690.7 307.5L690.4 305.5L689.2 303.0L686.0 301.0L682.7 300.0L679.5 298.5L677.9 299.2L676.7 296.5L679.6 295.0L676.3 294.4L674.2 292.7ZM712.2 303.0L715.8 301.7L716.1 303.0L719.1 301.5L720.8 299.7L720.9 301.5L719.0 303.2L716.7 304.7L714.0 304.7L711.9 304.0ZM717.8 295.7L720.4 297.5L722.5 300.5L722.0 301.0L720.4 298.7L718.0 296.5ZM726.1 302.7L728.5 305.7L727.6 306.5L726.0 304.2ZM729.8 306.0L731.9 307.7L730.8 307.7ZM733.4 308.2L736.7 310.5L735.4 310.2ZM736.1 312.5L738.6 313.7L736.8 314.0ZM738.7 310.2L739.9 313.2L739.1 312.7ZM739.5 315.0L741.6 316.2L740.5 315.7ZM749.4 326.0L750.3 328.0L749.2 328.3ZM750.1 329.3L751.1 330.5L750.2 330.5ZM751.4 333.3L751.9 333.8L751.2 333.8ZM740.7 339.5L743.5 341.3L745.9 344.8L744.7 345.3L742.0 343.0ZM771.3 333.0L774.0 333.3L773.4 334.8L771.0 334.8ZM774.5 331.3L778.0 329.8L777.2 331.3ZM698.0 316.0L699.6 321.2L699.6 325.3L702.6 326.8L702.8 331.5L703.1 335.5L703.8 337.5L707.0 339.5L708.2 342.3L710.2 347.3L711.9 349.8L714.2 351.8L712.0 357.8L712.0 360.8L708.5 366.3L705.5 370.6L703.6 371.6L701.1 374.1L696.6 378.8L693.7 383.1L689.2 384.1L684.2 387.1L682.4 385.3L678.7 386.3L675.4 385.3L673.4 384.1L673.4 381.6L674.3 379.1L672.5 378.3L673.4 376.6L673.1 374.8L671.3 377.3L669.6 377.6L672.3 374.3L674.6 370.6L668.5 375.8L667.9 376.6L666.9 375.6L666.5 371.8L666.1 369.6L661.7 368.1L656.8 368.6L649.9 370.1L645.0 371.8L643.1 374.1L639.7 374.1L635.8 374.1L630.5 376.8L627.6 376.8L625.1 375.1L625.6 373.3L628.0 370.6L628.6 369.1L628.5 364.8L628.7 361.3L628.5 358.1L627.5 354.6L628.9 350.0L630.3 345.8L631.6 343.8L634.8 342.5L637.9 340.8L642.0 340.0L645.2 339.0L649.0 336.3L650.8 334.3L651.3 331.8L653.3 330.3L654.2 332.5L656.7 329.3L658.0 328.0L660.7 324.8L663.0 324.0L665.2 326.5L668.1 326.5L669.0 323.2L671.8 320.2L674.5 319.7L676.0 317.7L677.9 318.7L681.1 319.7L683.3 319.2L685.0 319.7L684.0 322.5L682.2 325.5L681.2 326.8L683.0 328.8L685.7 329.8L687.9 331.8L689.8 333.5L692.3 331.8L694.1 328.0L694.9 324.3L695.7 320.7L697.0 316.7ZM678.4 391.1L681.4 392.1L685.3 391.3L683.6 394.3L681.0 397.3L677.9 398.3L676.4 398.0L676.6 396.3L677.0 394.8L677.6 392.3ZM671.2 317.7L673.6 317.7L672.2 319.0ZM668.3 378.6L671.1 378.8L669.4 379.3ZM745.4 375.3L745.6 376.8L747.5 377.6L747.0 380.1L746.5 381.6L747.9 380.6L747.8 382.3L747.6 383.6L749.2 384.3L751.5 383.3L752.4 383.6L749.6 386.1L748.6 387.3L746.4 387.8L745.3 389.3L742.2 391.6L738.8 393.3L738.4 392.6L740.7 390.3L740.3 388.6L740.0 387.6L741.1 386.8L743.6 385.1L745.1 383.1L745.8 380.6L745.4 377.6ZM735.6 390.6L735.1 392.3L737.3 391.8L736.6 393.5L734.0 395.3L730.4 397.5L730.0 398.7L727.4 399.2L725.2 400.2L722.0 402.9L721.0 403.9L717.8 405.4L715.0 405.6L714.1 404.7L712.7 403.9L714.7 402.2L718.3 400.2L721.5 399.0L726.4 396.8L729.4 395.0L730.9 393.5L733.8 391.3ZM712.9 406.1L714.0 406.4L712.6 407.1ZM409.9 194.0L412.0 193.5L416.5 193.3L415.6 195.8L415.7 197.3L414.0 196.8L412.3 195.8L410.2 195.0ZM401.0 186.6L403.1 186.1L404.3 187.8L404.1 191.0L402.9 191.5L401.6 191.5L401.5 188.3ZM403.3 181.6L403.6 183.8L403.0 185.6L401.8 184.1L401.9 182.6ZM433.5 200.3L435.4 200.5L439.2 200.8L439.1 201.5L435.9 201.8L433.4 201.0ZM451.8 201.5L453.1 200.5L456.4 199.8L455.1 201.5L453.3 202.5L452.1 202.3ZM389.3 190.1L390.9 189.3L391.4 190.1L390.5 190.8ZM432.2 191.8L434.1 192.5L435.1 194.0L433.7 193.3ZM404.8 150.8L406.0 150.4L407.5 150.1L407.6 151.1L406.9 152.0L406.0 152.5L405.0 151.8ZM402.4 151.3L404.1 151.1L404.3 152.2L402.9 152.2ZM417.5 147.8L418.6 145.7L418.4 146.8ZM423.6 144.3L425.9 144.1L425.2 145.0L424.0 145.4ZM424.0 143.1L425.5 143.4L424.8 143.8ZM372.0 135.8L373.2 135.6L372.6 137.4ZM381.8 139.5L382.7 139.2L382.3 141.1ZM378.5 142.9L379.6 142.9L379.1 143.6ZM370.9 144.7L373.3 144.5L371.8 145.9ZM501.5 257.6L504.1 257.6L503.1 258.4ZM479.4 318.0L480.0 318.7L479.4 319.0ZM483.2 321.0L483.9 321.2L483.4 321.7ZM509.1 339.5L510.0 339.8L509.2 340.5ZM504.4 341.5L505.4 342.0L504.7 342.8ZM348.3 218.1L350.1 217.8L348.9 219.1ZM350.7 218.8L351.5 218.8L351.1 219.6ZM353.9 217.3L355.0 217.3L353.9 218.8ZM355.0 216.1L355.9 216.1L355.2 216.8ZM346.0 217.1L346.7 217.1L346.4 217.8ZM332.5 250.9L333.2 251.4L332.5 251.9ZM329.2 246.4L329.8 246.4L329.4 246.9ZM334.3 248.6L334.8 248.9L334.3 249.1ZM331.0 251.6L331.2 251.9L330.7 252.1ZM403.6 279.9L404.1 280.7L403.2 280.9ZM398.8 288.2L399.2 288.7L398.8 288.9ZM471.0 303.7L471.6 304.5L471.2 305.2ZM249.6 248.4L250.3 248.4L249.9 248.9ZM249.9 250.4L250.6 250.4L250.2 250.9ZM250.4 252.4L251.1 252.4L250.7 253.0ZM250.3 254.1L251.0 254.1L250.6 254.7ZM249.7 255.9L250.4 255.9L250.0 256.5ZM253.3 256.0L254.1 256.0L253.7 256.6ZM248.5 258.6L249.2 258.6L248.8 259.2ZM249.2 246.1L249.8 246.1L249.5 246.7ZM247.2 245.6L247.9 245.6L247.5 246.2ZM242.9 243.1L243.6 243.1L243.2 243.7ZM246.8 243.6L247.5 243.6L247.1 244.2ZM215.7 227.3L217.2 227.3L216.2 228.5ZM217.5 226.2L218.2 226.2L217.8 226.8ZM220.2 225.8L220.8 225.8L220.4 226.4ZM221.9 230.6L222.6 230.6L222.1 231.2ZM224.8 236.0L226.1 236.0L225.4 237.1ZM224.0 232.6L224.7 232.6L224.3 233.2ZM228.6 234.3L229.3 234.3L228.8 234.9ZM220.9 228.3L221.6 228.3L221.1 228.9ZM232.4 258.4L233.1 258.4L232.8 259.0ZM234.0 258.4L234.7 258.4L234.3 259.0ZM230.3 257.6L231.0 257.6L230.6 258.2ZM703.0 250.9L703.7 250.9L703.5 251.4ZM701.8 255.3L702.5 255.3L702.2 255.8ZM701.7 243.9L702.4 243.9L702.1 244.4ZM680.9 270.2L681.6 270.2L681.3 270.7ZM688.3 265.1L689.0 265.1L688.7 265.7ZM719.0 270.4L719.7 270.4L719.4 271.0ZM733.2 271.7L733.9 271.7L733.6 272.2ZM744.1 275.7L744.8 275.7L744.5 276.2ZM761.8 271.2L762.5 271.2L762.2 271.7ZM753.3 290.2L754.0 290.2L753.6 290.8ZM766.7 285.4L767.4 285.4L767.1 286.0ZM36.0 284.2L36.7 284.2L36.3 284.8ZM5.4 322.8L6.7 322.8L6.3 323.9ZM7.4 323.8L8.1 323.8L7.9 324.3ZM9.8 324.8L10.5 324.8L10.3 325.3ZM4.1 342.0L4.8 342.0L4.6 342.6ZM5.1 335.8L5.8 335.8L5.6 336.3ZM57.7 333.0L58.8 333.0L58.4 333.9ZM53.2 330.8L53.9 330.8L53.7 331.3ZM75.3 311.2L76.0 311.2L75.7 311.8ZM77.9 313.5L78.6 313.5L78.3 314.1ZM37.5 342.0L38.2 342.0L38.0 342.6ZM779.2 310.2L779.9 310.2L779.4 310.8ZM506.7 300.6L507.4 300.6L507.0 301.2ZM546.6 278.5L547.1 278.5L546.8 278.9ZM522.0 338.4L522.5 338.4L522.2 338.7ZM-2.7 322.2L-2.0 322.2L-2.3 322.8ZM-6.4 324.8L-5.7 324.8L-5.9 325.3Z" fill="#e8ecf4" stroke="#585c64" stroke-width="0.55" stroke-linejoin="round"/>
<path d="M454.8 290.4L456.3 288.7L459.2 288.7L460.1 290.4L459.2 293.7L457.4 295.7L455.2 295.2L454.5 292.2ZM478.2 175.0L480.7 173.0L484.4 172.0L488.4 172.5L489.2 175.7L486.4 176.2L485.8 177.9L484.6 178.4L487.6 181.1L490.4 182.1L490.4 184.6L493.5 186.6L495.4 186.6L493.5 189.1L493.0 191.5L495.7 195.8L493.1 197.0L490.0 197.3L486.6 195.5L484.9 193.0L485.3 190.8L486.8 188.3L484.9 187.1L482.3 184.3L479.7 181.6L478.9 179.1ZM203.9 172.5L206.7 172.7L210.1 171.8L212.5 170.8L213.5 173.0L217.4 173.0L218.6 172.0L217.9 169.6L216.8 167.6L213.8 167.1L210.2 169.3ZM207.3 184.1L208.6 184.8L210.8 182.8L212.3 179.1L214.9 176.7L217.1 174.7L213.7 174.7L209.8 177.9L208.1 181.6ZM217.9 174.2L219.8 174.5L223.5 174.0L226.3 175.4L226.0 177.2L222.9 177.4L220.9 180.6L219.1 181.6L219.3 179.1L217.9 179.1L219.3 176.7L218.0 175.0ZM215.9 184.8L217.4 185.6L220.7 184.8L225.7 182.4L224.8 181.9L220.6 182.6L217.2 183.6ZM224.6 180.9L226.2 180.9L229.2 180.9L232.1 180.1L232.2 178.6L229.8 179.1L226.3 179.6Z" fill="#fff" stroke="#585c64" stroke-width="0.55" stroke-linejoin="round"/>
<path d="M147.0 166.9L200.5 166.9L201.5 166.2L201.2 167.6L204.1 167.9L206.5 169.1L209.4 169.1L210.2 169.3M218.4 173.0L220.0 174.0L221.1 175.9L219.1 181.6L217.0 183.6L217.7 184.8L225.8 182.1L226.0 180.9L228.5 180.1L232.1 178.9L235.7 176.7L242.7 176.7L244.3 175.9L246.0 173.7L249.2 170.8L250.9 171.0L251.6 171.8L250.7 174.5L251.0 175.9L251.7 176.4M159.2 119.7L136.0 140.1L139.1 140.6L139.0 143.4L142.3 142.0L144.9 141.5L145.2 144.5L144.5 148.5L146.3 149.9L144.1 152.5M137.8 207.8L143.1 207.3L149.7 210.8L155.6 210.8L156.0 209.5L159.6 209.5L161.9 212.3L162.2 215.1L164.6 216.6L166.6 214.6L168.9 214.6L170.1 217.3L171.5 220.3L171.8 223.1L175.6 224.2M182.3 252.9L182.6 250.9L183.9 248.9L186.5 248.9L185.8 246.1L186.2 244.6L190.0 244.6L191.1 243.6L192.5 242.9M190.0 244.6L189.3 249.4L190.0 249.4M191.4 249.9L189.0 252.1L188.6 253.1L186.8 254.8M188.6 253.1L190.3 254.1L191.9 255.6M192.7 256.6L194.2 254.6L196.3 254.1L198.2 252.4L200.4 252.1L202.2 251.6M195.9 261.4L197.8 261.6L200.2 261.9M201.6 268.9L201.7 266.7L202.4 265.4M212.5 271.2L213.9 269.2L213.8 267.4M228.5 239.9L227.9 244.1M227.7 259.5L225.4 261.4L223.8 266.4L224.8 268.2L225.3 270.7L227.7 271.7L229.7 271.7L231.2 273.9L235.4 273.7L234.6 275.9L234.6 278.7L235.6 280.9L234.5 282.2L236.0 284.7L236.4 286.2M236.4 286.2L234.0 284.7L230.0 284.9L231.1 287.4L229.6 289.2L230.7 291.7L229.8 299.7M229.8 299.7L228.1 298.7L229.4 296.0L225.6 294.7L223.0 295.0L220.7 291.9L217.8 289.4L215.6 288.2L213.0 287.4L210.1 285.7M217.8 289.4L217.4 292.9L214.8 295.7L211.5 297.7L210.5 300.7L208.8 301.5L206.7 299.7L206.9 297.7M229.8 299.7L228.0 300.0L223.4 302.2L222.8 305.5L221.1 307.7L223.6 312.2L225.4 314.2L228.9 313.0L229.1 316.7L231.3 316.6M231.3 316.6L233.5 320.5L233.0 323.5L232.4 326.3L233.0 328.0L232.2 329.8L233.6 330.5L232.8 333.0L231.2 335.3M232.8 333.0L234.8 338.0L235.8 341.3L237.1 343.8L237.6 346.3L239.1 346.3M231.3 316.6L233.7 316.7L238.0 314.0L240.4 313.7L240.8 318.2L243.2 320.5L246.5 321.7L248.8 323.0L251.9 323.8L252.6 326.8L252.8 330.0L256.7 330.0L257.4 332.8L259.1 334.8L258.6 336.8L257.9 338.8L258.1 339.8M258.1 339.8L255.8 337.5L250.3 338.3L249.2 340.5L248.9 344.9L246.0 344.3L245.4 346.3L243.3 344.5L240.8 343.8L239.1 346.3M239.1 346.3L239.7 348.0L237.2 350.5L237.4 355.1L235.9 360.6L235.7 364.3L235.9 368.1L237.4 372.6L238.4 375.1L238.1 379.8L237.7 383.1L238.9 386.1L238.2 389.3L239.6 394.3L241.4 398.7L242.9 402.9L243.7 407.4L243.7 411.5L244.4 415.1L247.3 418.0L248.4 418.7L252.0 418.7L255.3 419.5M255.3 420.4L257.6 425.7M248.9 344.9L252.8 348.8L256.4 350.3L260.0 352.3L258.9 357.3L262.4 357.8L264.8 357.6L267.0 353.3M258.1 339.8L259.1 344.5L262.1 344.8L263.9 345.3L264.9 349.3L267.3 349.5L267.0 353.3L269.2 355.1L269.2 357.1L265.3 360.3L262.2 364.8M262.2 364.8L261.8 368.1L262.1 371.8L262.1 374.1M262.2 364.8L265.8 366.3L266.7 366.6L270.5 369.1L272.5 371.1L272.5 373.6M236.4 286.2L239.5 287.2L242.4 285.4L244.2 283.7L242.5 282.9L242.3 278.9L245.6 279.9L245.8 279.2L249.6 277.9L250.3 276.2M250.3 276.2L248.8 274.4L249.3 272.4L251.3 271.7L250.5 270.4L252.1 268.2M250.3 276.2L252.1 276.7L251.6 277.9L252.7 279.4L252.0 283.4L253.9 285.9L255.9 285.4L259.5 284.4M259.5 284.4L257.7 280.9L256.2 279.2L257.8 275.9L258.3 274.4M259.5 284.4L260.8 284.2L263.7 283.4L264.6 280.4L264.2 277.2L265.2 274.9M263.7 283.4L267.2 283.7L268.6 281.2L270.4 278.7M366.5 184.4L367.9 183.8L368.3 184.6L371.1 184.3L371.9 185.1L370.4 186.6L370.5 189.1L370.1 189.8L369.1 190.1L370.1 191.5L369.4 193.0L370.0 193.5L368.9 195.3L369.1 196.0M380.8 180.6L381.6 181.6L383.8 182.1L385.8 182.1L387.4 182.6L388.4 183.1L390.8 183.0M399.4 179.6L399.7 178.6L398.1 178.2L398.3 176.2L397.8 174.7L398.2 174.5L397.8 173.2L396.4 173.7L396.4 172.7L398.1 170.8L399.2 170.3L399.2 168.6L400.3 166.9L397.3 166.4L396.7 165.7L395.6 165.7L393.8 164.9L392.5 164.5L392.5 163.7L390.5 162.8L389.4 162.5L389.2 161.8M390.9 161.1L392.6 161.1L393.9 160.8L395.6 161.8L395.3 162.5L395.9 162.6L396.5 163.7L396.1 164.2L395.6 165.7M396.1 164.2L396.9 164.9L396.7 165.7M395.9 162.6L396.0 160.8L397.1 159.9L397.6 158.9L397.7 156.8L397.9 156.5M400.3 152.7L402.0 153.0M411.1 155.1L411.4 156.8L410.9 157.7L412.2 159.4L412.3 160.8L413.0 162.0L412.6 162.3L411.7 162.0L409.3 163.2L407.6 163.7L408.4 164.7L411.1 167.4L409.7 168.6L409.4 170.1L407.8 170.3L404.9 170.5L403.2 170.5L401.0 170.1L399.2 170.3M398.2 174.5L400.0 174.2L400.9 173.2L402.2 174.5L402.7 173.2L404.3 173.5L404.8 172.7L405.0 172.0L403.2 171.5L403.2 170.5M405.0 172.0L406.4 172.0L408.3 171.6L408.7 172.5L411.3 173.0L411.0 174.2L411.5 175.2M411.3 173.0L413.1 173.2L415.2 172.5L416.0 172.1L416.6 170.8L417.8 170.1L417.9 169.3L417.2 167.9L415.6 167.5L413.4 166.9L412.9 167.9L411.1 167.4M412.6 162.3L414.6 162.8L415.6 163.0L416.4 164.0L418.3 163.7L420.6 165.7L419.2 166.9L417.7 167.1L417.3 167.9M420.6 165.7L422.6 166.4L423.9 165.9L427.9 166.6L427.3 168.3L424.2 168.1L422.7 168.8L420.8 169.8L417.9 169.3M427.9 166.6L428.1 165.4L429.4 163.5L430.4 162.3L429.2 160.8L428.9 158.2L429.3 157.2L428.2 155.1L426.7 153.9L421.2 153.9M426.7 153.9L426.4 152.7L423.7 151.8M428.2 155.1L429.9 155.1L431.8 154.1L432.1 152.7L433.4 151.8L433.3 150.8L430.1 149.4L426.2 149.2L422.9 149.9M433.3 150.8L436.0 149.8L434.6 147.1L433.8 146.5L431.3 145.9L429.9 145.4L428.2 145.7M433.8 146.5L433.8 144.7L433.3 143.1L434.2 142.1M436.0 149.8L439.5 150.6L441.2 151.1L441.4 153.0L444.5 155.3L445.6 156.3L443.3 157.0L444.5 159.4L442.6 161.3L439.9 161.1L436.6 160.6L431.7 159.9L429.2 160.8M444.5 159.4L448.2 158.9L451.9 162.0L452.6 163.5L456.3 163.7L457.8 164.7L461.6 165.4L461.5 167.4L461.8 169.8L459.3 171.3M427.3 168.3L429.0 169.3L432.1 169.4L436.1 168.7L438.4 168.3L441.2 169.3L443.6 173.2L441.2 173.2L440.2 175.4L443.2 176.2M436.1 168.7L438.1 170.5L439.5 172.3L440.2 175.4M429.0 169.3L427.4 170.8L425.7 173.5L424.4 173.8L421.7 174.5L418.9 174.2L416.8 173.0L416.0 172.1M416.8 173.0L415.1 173.7L415.2 174.7L414.5 175.4L413.1 175.4L411.3 175.4M422.1 176.9L419.7 176.4L417.1 176.2L415.7 176.2L415.8 177.4L416.7 178.6L419.1 180.9L419.7 181.9M419.9 181.6L421.5 182.7L421.9 181.1L422.8 180.4L423.6 180.1L422.8 178.4L422.1 176.9L422.8 176.2L422.0 175.9L421.7 174.5M424.4 173.8L427.0 176.2L426.9 177.2L429.1 177.7L429.6 178.6L429.2 180.4L430.5 181.4L429.7 183.1L429.4 183.3L427.7 183.5L426.0 184.3L424.8 182.7L425.2 182.0L422.8 180.4M424.8 182.6L426.1 181.0L428.2 182.4L427.7 183.5M424.8 182.7L423.6 184.3M426.0 184.3L425.9 185.8L427.0 186.9L426.5 188.3L425.2 189.8M427.0 186.9L429.0 186.2L430.9 185.7L429.4 183.3M430.9 185.7L434.0 185.3L435.7 185.9L437.7 184.8L439.9 184.1L441.0 184.1M437.7 184.8L438.3 185.8L437.3 187.3M429.6 178.6L430.3 179.6L435.4 180.0L438.2 178.8L441.5 179.8M404.4 143.4L405.3 141.3L406.4 140.1L405.9 138.5L405.6 137.0L405.1 132.9L407.9 130.7L408.4 129.4L408.5 127.2L410.7 124.8L411.2 124.1L413.5 123.1L413.7 122.0L416.7 120.8L417.4 120.8L419.5 122.0L422.7 123.3L423.1 124.6L423.8 126.3L424.7 127.8M417.4 120.8L418.6 120.3L420.6 121.6L423.1 121.4L425.7 120.5L425.9 119.5L428.7 118.6L430.9 120.8L432.5 119.6L433.6 119.2M430.9 120.8L430.5 122.0L433.2 123.7L432.3 125.4L434.6 128.0L434.6 130.0L436.1 131.3L438.7 134.2L436.5 138.1L433.3 139.6M370.9 152.5L369.4 153.7L370.8 154.6L372.7 154.6M453.2 201.2L455.1 201.3M379.8 201.3L380.9 202.8L380.6 206.5L381.9 208.3L378.1 209.5L376.6 211.8L373.8 214.1L372.7 214.6L369.5 215.3L365.9 217.3L365.9 219.9L365.9 220.8M356.2 219.9L365.9 219.9M365.9 220.8L365.8 224.1L358.6 224.1L358.5 230.3L356.3 231.6L356.2 235.7L347.7 235.7M365.9 220.8L374.1 226.6L387.0 236.3L388.3 238.4L391.4 239.6L391.6 241.6L393.7 241.2L397.0 240.4L400.7 237.1L410.3 230.3L406.0 227.8L404.8 223.3L405.6 220.3L405.3 216.6L404.6 213.6L403.4 209.0L401.9 207.8L400.1 204.5L401.5 202.3L401.7 199.8L402.2 196.8M404.6 213.6L406.2 211.8L406.2 209.8L408.6 207.8L408.6 206.0M410.3 230.3L415.1 232.6L416.8 231.6L436.6 240.4L436.6 239.1L438.7 239.1L438.5 234.1L437.6 215.3L436.8 213.6L437.6 210.1M438.5 234.1L464.3 234.1M374.1 226.6L370.4 226.6L372.4 250.4L363.6 250.4L360.8 250.9L359.2 250.1L357.7 252.1L354.9 248.9L352.7 247.6L348.3 248.9M357.7 252.1L358.1 254.9L359.4 258.1L354.3 257.4L351.5 257.4L347.7 258.3M347.5 255.1L351.5 254.6L354.1 255.6L351.5 256.1L347.5 256.4M354.3 257.4L354.3 259.9L352.1 260.4L351.4 261.8M359.4 258.1L363.1 258.6L365.1 260.4L366.8 263.6L367.4 268.2L365.7 270.2L363.9 270.7L363.5 268.2L361.7 267.9L360.8 266.4L359.7 264.1L356.9 264.4L355.1 266.7M361.7 267.9L359.0 271.9M365.7 270.2L365.9 272.9L367.8 274.7L367.8 278.2M366.8 263.6L370.8 262.4L372.3 263.1L374.1 264.9L378.2 264.9L378.5 265.4L378.9 268.7L377.3 272.2L378.0 276.4M378.5 265.4L378.2 261.6L384.4 261.6L385.5 265.4L385.7 270.4L387.1 273.9M384.4 261.6L386.4 261.6L387.9 266.7L387.9 273.7M386.4 261.6L388.8 260.6L389.7 259.4L389.7 258.4L392.3 259.9L392.3 263.6L390.4 266.7L390.4 273.2M372.3 263.1L372.8 260.1L374.7 257.9L375.6 255.6L378.1 253.6L380.0 252.4L384.8 251.6L392.1 250.6L393.6 247.6L393.7 241.2M384.8 251.6L385.3 254.1L386.6 255.6L389.0 257.4L389.7 258.4M392.3 259.9L393.4 255.4L396.5 254.4L401.5 255.9L406.4 255.9L411.9 256.4L414.2 254.9L413.8 253.1L418.3 246.9L418.3 239.6L419.2 238.4L416.8 231.6M414.2 254.9L415.4 256.4L416.5 260.4L413.7 263.9L412.6 267.4L410.4 271.4L407.8 271.4L406.0 272.2L403.8 274.7L403.2 277.9M415.4 256.4L417.4 259.1L417.4 262.1L418.5 264.1L415.7 264.4L415.0 265.1L418.6 270.4L421.9 269.9L425.4 268.9L426.5 266.7L432.2 262.6L434.8 261.9L433.9 261.6L432.9 256.6L434.5 250.4L436.9 249.9L436.6 240.4M418.6 270.4L416.4 273.9L416.4 276.4L418.0 279.4L420.0 281.9L420.2 283.7L413.8 283.7L409.4 283.7L406.1 283.4M409.4 283.7L409.4 286.7L405.6 286.7M413.8 283.7L413.6 285.9L416.3 285.9L416.5 290.7L415.1 295.2L412.1 295.0L410.5 298.0L408.9 299.0M420.2 283.7L420.9 281.2L425.5 280.4L424.2 284.2L423.8 289.2L420.2 294.2L419.6 299.0L417.6 300.7L416.2 301.5L414.0 301.2L413.1 300.7L411.4 301.7M413.1 300.7L412.0 303.7L411.4 303.7M425.5 280.4L425.5 278.2L427.5 276.7L433.9 278.9L435.0 277.2L439.0 276.7L440.3 276.2L444.9 276.4L442.9 274.2L440.2 270.9L437.8 268.4L436.2 267.4L436.6 264.9L434.8 261.9M436.2 267.4L438.4 266.9L439.4 263.4L443.0 265.4L446.1 265.9L448.3 264.9L449.4 263.9L452.3 264.9L453.1 264.6L455.6 259.9L455.6 259.1L457.4 258.6L457.3 262.4L459.5 265.4L459.9 262.6L461.6 259.6L463.7 257.4L464.4 253.4L464.1 251.4L465.2 246.6L468.6 244.1M464.4 253.4L467.4 251.9L469.9 252.6L472.5 253.1L475.9 255.9L477.6 257.9L479.1 257.4M477.6 257.9L476.3 260.1L476.4 261.6L478.8 261.8L479.5 260.4M478.8 261.8L478.7 264.1L481.4 266.7L488.1 269.2L490.3 269.2L483.8 276.9L480.5 277.2L477.2 278.7L477.0 279.3L475.1 282.2L475.1 289.2L475.1 291.4L476.3 293.3M477.0 279.3L474.6 278.7L471.7 280.4L468.6 280.2L465.9 278.2L463.8 277.7L462.4 275.7L461.0 272.4L457.2 269.4L459.4 268.2L459.5 265.4M463.8 277.7L460.4 277.7L459.5 278.7L460.7 281.2L461.8 284.9L460.7 286.4L459.6 288.4L459.4 291.7L467.8 297.0L467.5 298.0L471.0 301.0M459.5 278.7L457.3 279.7L454.7 280.2L452.6 280.4L450.0 277.7L447.2 278.4L444.9 276.4M452.6 280.4L452.5 283.4L453.6 283.9L450.8 287.2L449.9 290.4L449.9 292.7L451.9 291.9L459.4 291.7M449.9 292.7L448.5 296.0L451.9 295.2L452.5 295.2L451.9 291.9M448.5 296.0L449.2 297.7L449.4 300.3L449.8 305.0L452.1 309.7L456.9 312.7L459.3 313.0L460.3 318.0L461.2 318.2L466.9 318.5L469.1 317.5L473.4 315.4M451.9 295.2L451.6 298.7L449.8 300.3M461.2 318.2L460.6 320.5L461.2 323.0L463.0 326.5L462.7 329.3L461.5 332.0L459.8 330.0L459.5 326.8L460.2 325.3L457.4 324.3L456.6 321.7L457.4 318.2L457.7 316.0L456.9 312.7M452.1 309.7L448.1 310.5L447.0 312.5L447.6 316.0L446.8 319.0L449.9 319.7L449.8 322.7L446.8 320.5L444.2 318.2L440.0 318.2L438.1 317.5L437.2 316.5L437.1 321.7L432.7 321.7L432.5 329.8L435.5 333.3L439.6 333.8M457.4 324.3L450.6 326.8L450.9 328.3L447.6 329.3L443.3 334.3L439.6 333.8M450.9 328.3L456.3 331.0L456.4 334.3L455.5 339.0L454.9 342.5L452.1 345.3L448.0 344.8L444.5 340.5L441.4 338.0L439.6 333.8M410.2 332.5L415.0 332.8L424.8 332.8L430.2 334.0L435.5 333.3M439.6 333.8L435.8 335.5L430.2 335.0L429.9 344.3L427.7 344.3L427.5 351.3L427.1 360.3L424.9 361.6L421.5 361.1L419.5 360.8M427.5 351.3L429.0 356.3L433.2 353.1L439.2 353.6L442.5 348.5L448.0 344.8M452.1 345.3L453.4 350.5L452.9 354.1L451.0 353.8L450.4 356.3L451.4 357.6L453.0 356.3L453.3 354.3L452.9 354.1M453.0 356.3L454.9 356.4M441.8 363.3L444.1 361.1L446.8 362.1L446.4 364.1L444.2 365.8L442.3 365.1L441.8 363.3M411.6 304.3L413.8 304.0L421.1 304.0L421.7 307.2L427.2 309.2L427.4 306.7L432.5 307.5L432.5 311.5L432.8 316.7L437.2 316.5M456.7 210.8L458.6 215.3M458.7 215.2L459.4 210.3L459.3 207.3L459.6 205.8L458.2 206.3M459.6 205.8L461.0 203.5L460.4 202.5L459.5 202.4M459.3 207.3L462.0 208.3L465.8 205.5L467.1 208.7L462.6 210.3L465.0 212.8L464.1 214.1L461.3 216.1L458.8 215.6M465.8 205.5L470.1 203.0L470.0 198.0L472.1 196.3L467.2 197.0L463.1 197.0L460.4 197.0L460.4 198.5L459.6 199.3L459.0 199.3M472.1 196.3L477.0 196.2L475.7 193.3L474.4 190.5L475.9 189.8L473.5 188.8L472.8 186.3L472.5 186.3L470.4 185.3L468.5 185.3M464.5 180.6L468.6 181.1L472.5 182.6L474.8 182.4L478.1 184.3L478.6 186.1L475.5 185.8L472.5 186.3M475.5 185.8L477.0 187.1L478.1 188.6L479.5 190.3L479.7 191.8M478.1 184.3L480.2 185.8L481.5 186.1L482.5 184.5M475.9 189.8L479.7 191.8L482.0 189.8L483.2 190.5L484.9 193.0M477.0 196.2L478.7 199.0L480.7 201.3L479.8 203.3L481.3 206.5L485.0 209.0L485.4 211.6L487.5 214.2M486.4 214.1L485.7 213.8L483.5 216.3L479.6 216.1L473.3 211.3L469.7 209.3L467.1 208.7M483.5 216.3L485.6 216.6L486.2 217.8L487.8 217.7M477.8 248.1L478.7 245.6L481.5 245.6L485.7 246.1L488.1 246.4L489.5 243.6L491.4 242.6L497.6 241.6L503.9 239.1L505.0 234.1L503.8 232.3L498.1 231.8L495.7 228.6M493.8 227.2L494.7 227.6M503.8 232.3L504.7 228.6L505.0 226.8L505.8 226.7M497.6 241.6L500.4 247.5M495.7 195.7L497.5 195.5L499.6 193.8L502.1 193.5L505.0 194.8L507.0 195.3L509.5 197.5L511.2 197.5L511.7 200.0L510.7 202.3L511.2 204.8L512.2 205.3L511.9 207.0L512.9 210.3L515.1 210.6L515.1 212.1L513.8 214.4L516.2 217.6L518.5 218.6L518.8 220.8L519.7 221.1L520.2 222.6L517.2 223.3L516.9 226.1M513.8 214.4L517.4 215.6L520.8 215.6L525.3 214.3L525.0 211.8L527.7 210.6L530.7 209.3L530.1 206.5L531.9 205.5L530.8 204.0L533.0 203.0L533.6 201.0L532.9 199.0L535.4 196.8L539.2 196.0M511.7 200.0L514.2 200.8L515.6 199.5L518.2 198.3L519.9 195.8L521.7 195.7L524.5 196.0L527.7 196.3L529.2 195.0L528.9 193.0L531.0 193.3L532.6 197.0L534.5 196.5L536.8 195.5L539.1 195.9M531.6 229.8L532.7 228.3L537.4 228.1L535.3 224.8L535.2 222.6L533.2 221.1L534.8 219.1L538.1 219.3L540.3 214.3L542.1 211.6L541.4 207.3L539.5 204.8L538.8 202.5L544.8 202.3L546.3 200.3M539.1 195.9L541.4 197.3L542.8 199.5L546.3 200.3L549.4 203.3L550.1 207.5L551.2 207.8L550.7 210.3L553.2 211.8L556.3 213.6L555.1 217.1L557.7 218.1L562.7 220.6L565.8 221.1L568.6 222.6L573.4 223.1L572.7 219.3M556.3 213.6L558.6 213.3L563.0 215.8L566.1 217.6L568.1 219.1L572.7 219.3L574.1 218.8L574.7 220.8L575.7 218.6L577.5 218.8L580.2 219.6L581.4 220.3L584.4 217.3L587.6 216.3L589.2 215.8L592.2 218.6M581.4 220.3L581.8 221.8L578.1 221.8L575.2 222.1L574.7 220.8M577.4 234.8L576.5 231.1L574.5 228.1L573.7 224.6L574.0 222.8L577.3 224.1L577.6 225.8L583.3 226.6L582.9 228.1L581.1 229.1L581.7 231.6L582.2 230.3L583.6 229.8L585.0 234.3L584.3 235.8L584.7 237.1M584.3 235.8L586.1 233.6L585.9 229.1L588.1 225.8L588.5 222.3L592.2 221.3L592.2 218.6L595.1 220.1L596.5 224.6L594.8 228.1L597.7 228.8L598.1 231.1L599.5 231.8L599.2 233.8L601.6 235.3L603.6 235.2L601.8 238.2M601.8 238.2L599.5 238.9L597.5 242.9L596.6 242.9L600.2 248.4L599.4 251.1L602.2 256.1L603.4 259.6L601.9 262.9L601.4 264.1M601.8 238.2L603.0 240.4L604.5 240.4L604.7 244.9L606.9 243.6L608.8 244.4L611.0 243.4L613.1 245.6L613.5 248.4L615.5 250.1L615.7 253.1L615.0 253.4L610.2 253.6L609.3 255.1L609.0 256.6L610.7 259.9M605.4 273.0L607.7 274.9L609.2 274.7L609.8 273.7M615.0 253.4L616.7 253.1L619.9 252.4L620.0 250.9L618.9 249.1L617.3 247.6L613.7 243.6L610.6 240.4L612.3 238.6L611.3 237.9L608.1 237.1L607.3 234.8L605.4 233.1L604.9 236.1L603.6 235.2M605.4 233.1L608.3 232.6L611.0 231.8L613.3 231.8L615.4 233.6L617.1 235.1L618.5 235.2M619.9 252.4L620.6 257.9L617.4 259.6L617.4 261.6L615.7 261.9L614.3 263.1M626.9 284.0L626.8 285.9L629.1 286.9L631.7 286.7L633.2 285.4L635.9 285.9L638.3 284.4L639.1 282.9L639.8 281.7L639.9 278.7L644.3 278.7M636.5 277.7L638.1 278.2L639.2 278.4L638.7 276.9M696.2 295.7L695.1 312.0M659.9 311.6L660.0 312.7M637.9 189.1L640.0 186.6L640.7 184.6L643.3 185.3L643.0 184.1L645.5 183.1L647.3 183.1M645.5 194.5L647.9 192.5M647.3 183.1L646.8 180.4L644.9 176.9L648.1 176.4L646.0 168.6L644.0 169.1L639.4 170.1L637.6 167.1L629.6 164.9L621.7 158.2L615.4 156.0L610.9 156.5L610.4 158.2L612.8 159.6L612.8 163.7L611.4 165.7L608.8 164.9M608.8 164.9L609.5 169.6L613.5 170.3L617.3 171.8L619.7 172.5L613.8 173.5L611.9 175.7L610.0 177.4L606.1 176.4L606.1 178.2L608.0 179.6L604.4 183.1L596.7 185.1L585.5 182.6L578.1 182.4L574.1 178.4L564.6 176.2L563.2 173.5L557.1 169.1L553.9 166.4M608.8 164.9L602.8 163.7L600.3 165.9L593.7 166.2L588.8 163.7L581.8 163.7L579.0 161.3L571.7 159.6L570.8 162.0L572.5 163.2L566.8 164.5L560.6 162.5L556.6 164.7L553.9 166.4L553.1 166.6M553.1 166.6L550.9 168.3L551.8 170.8L546.8 171.3L547.1 175.4L543.2 176.7L546.3 181.1L546.1 183.8L543.2 185.3L540.4 186.6L535.3 189.1L535.0 190.3L536.2 192.8L539.2 195.3L539.1 195.9M553.1 166.6L548.5 165.4L542.6 162.0L537.1 162.5L530.3 156.5L526.9 154.9L521.7 156.0L521.1 154.9L516.8 154.4L515.0 151.8L511.4 151.5L505.5 153.9L498.7 155.1L499.1 158.2L501.8 161.3L498.8 162.5L495.7 161.8L492.6 161.8L490.9 163.0L483.6 160.4L480.7 160.4L477.5 163.0L477.8 164.7L475.2 166.4L474.7 168.3L476.6 170.1L478.4 170.1L480.7 173.2M490.4 184.7L493.2 183.3L496.8 185.8L497.8 185.8L495.4 176.7L500.2 175.2L505.8 178.2L508.4 180.4L514.1 179.9L517.0 181.6L517.6 184.1L522.3 186.3L524.1 185.6L527.4 183.3L532.4 183.1L532.1 181.6L536.6 181.9L543.3 182.1L546.1 183.8M497.8 185.8L499.8 185.8L499.6 184.1L502.2 182.4L505.3 183.6L506.0 185.6L509.9 186.3L511.6 189.1L516.0 191.8L521.3 194.0L521.7 195.7M524.5 196.0L525.1 193.5L522.7 190.1L525.0 188.8L527.3 186.8L529.0 188.6L526.5 190.3L528.4 190.1L531.6 190.5L535.0 190.3M527.4 183.3L526.4 185.3L529.2 185.3L532.6 187.1L530.9 188.1L529.0 188.6" fill="none" stroke="#585c64" stroke-width="0.55" stroke-linejoin="round" stroke-linecap="round"/>
</svg>
<div id="src"><b>Source</b>: Straits Research Analysis Company Publications, Primary Interviews.</div>
<div id="bot"></div>
<div id="panel"></div>
<div id="big"><span style="visibility:hidden">1</span>.08%</div>
<svg style="position:absolute;left:0;top:0" width="1038" height="485" viewBox="0 0 1038 485"><path d="M858.4,52.6 L858.4,88.7 L852.8,88.7 L852.8,64.1 L843.3,64.1 L843.3,58.8 C848.2,58.8 852.2,57.3 854,52.6 Z" fill="#0c3c8a"/></svg>
<div id="rule"></div>
<div id="desc"><span style="transform:scaleX(1.10)">Mexico Methanol</span><span style="transform:scaleX(1.07)">Market Revenue</span><span style="transform:scaleX(1.055)">Share, 2024</span></div>
<svg id="logo" viewBox="850 335 130 65">
<polygon points="863.1,348.1 887.9,360.5 875.5,366.9 863.1,360.5" fill="#0b1d4a"/>
<polygon points="863.1,373.2 887.9,360.5 894,360.5 894,372.8 887.9,372.8 863.1,384.9" fill="#00c6fb"/>
<polygon points="875.5,366.9 887.9,360.7 887.9,372.8" fill="#00bdf2"/>
</svg>
<div id="st">straits</div>
<div id="rs">research</div>
</body></html>
